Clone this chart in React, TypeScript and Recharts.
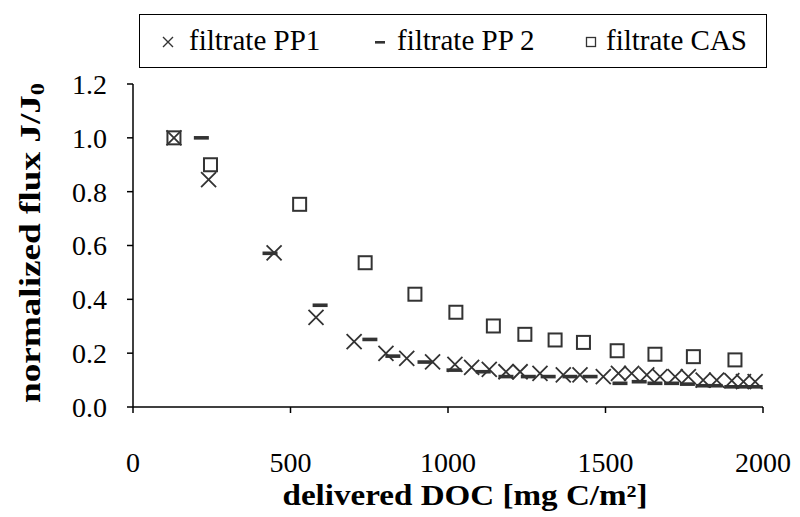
import React from 'react';
import { ScatterChart, Scatter, XAxis, YAxis, Legend, Label } from 'recharts';

// delivered DOC [mg C/m²] and normalized flux J/J0
const pp1X = [130, 240, 448, 581, 702, 803, 869, 951, 1022, 1075, 1131, 1184, 1229, 1292, 1366, 1419, 1493, 1541, 1583, 1631, 1673, 1721, 1763, 1810, 1853, 1901, 1938, 1975];
const pp1Y = [1.0, 0.845, 0.573, 0.333, 0.243, 0.199, 0.181, 0.168, 0.158, 0.147, 0.14, 0.131, 0.131, 0.125, 0.119, 0.119, 0.113, 0.125, 0.125, 0.119, 0.113, 0.113, 0.113, 0.1, 0.1, 0.098, 0.094, 0.094];

const pp2X = [217, 435, 594, 752, 825, 927, 1019, 1112, 1184, 1255, 1318, 1387, 1451, 1546, 1607, 1657, 1710, 1760, 1810, 1848, 1901, 1940, 1975];
const pp2Y = [1.0, 0.571, 0.378, 0.251, 0.189, 0.167, 0.137, 0.131, 0.113, 0.113, 0.113, 0.113, 0.113, 0.088, 0.094, 0.088, 0.088, 0.085, 0.079, 0.079, 0.075, 0.075, 0.075];

const casX = [130, 246, 529, 737, 895, 1025, 1144, 1244, 1340, 1430, 1537, 1657, 1779, 1911];
const casY = [1.0, 0.9, 0.753, 0.536, 0.419, 0.352, 0.301, 0.27, 0.249, 0.24, 0.209, 0.196, 0.187, 0.175];

const xTicks = [0, 500, 1000, 1500, 2000];
const yTicks = [0, 0.2, 0.4, 0.6, 0.8, 1.0, 1.2];

const seriesNames = ['filtrate PP1', 'filtrate PP 2', 'filtrate CAS'];

const toPoints = (xs: number[], ys: number[]) => xs.map((x, i) => ({ x, y: ys[i] }));

const INK = '#333';
const FONT = 'Liberation Serif';

const Cross = (p: any) => {
  const r = 7.5;
  const { cx, cy } = p;
  return (
    <path
      d={`M${cx - r},${cy - r}L${cx + r},${cy + r}M${cx - r},${cy + r}L${cx + r},${cy - r}`}
      stroke={INK}
      strokeWidth={1.8}
      fill="none"
    />
  );
};

const Dash = (p: any) => <rect x={p.cx - 7.5} y={p.cy - 1.8} width={15} height={3.6} fill={INK} />;

const Box = (p: any) => (
  <rect x={p.cx - 6.5} y={p.cy - 6.5} width={13} height={13} stroke={INK} strokeWidth={2} fill="none" />
);

const LegendMarks = [
  <svg width={14} height={14} key="a">
    <path d="M2,2L12,12M2,12L12,2" stroke={INK} strokeWidth={1.4} />
  </svg>,
  <svg width={14} height={14} key="b">
    <rect x={2} y={6} width={10} height={2.6} fill={INK} />
  </svg>,
  <svg width={14} height={14} key="c">
    <rect x={2.5} y={2.5} width={9} height={9} stroke={INK} strokeWidth={1.3} fill="none" />
  </svg>,
];

const legendSpots = [
  { markLeft: 21, textLeft: 49 },
  { markLeft: 233, textLeft: 257 },
  { markLeft: 444, textLeft: 466 },
];

const renderLegend = () => (
  <div
    style={{
      position: 'relative',
      width: 628,
      height: 54,
      boxSizing: 'border-box',
      border: '1.5px solid #000',
      fontFamily: FONT,
      fontSize: 29,
      color: '#000',
    }}
  >
    {seriesNames.map((name, i) => (
      <React.Fragment key={name}>
        <div style={{ position: 'absolute', left: legendSpots[i].markLeft, top: 20, lineHeight: 0 }}>
          {LegendMarks[i]}
        </div>
        <div style={{ position: 'absolute', left: legendSpots[i].textLeft, top: 9, lineHeight: '32px', whiteSpace: 'nowrap' }}>
          {name}
        </div>
      </React.Fragment>
    ))}
  </div>
);

export default function App() {
  return (
    <div style={{ position: 'absolute', left: 0, top: 0, width: 800, height: 517, background: '#fff', fontFamily: FONT }}>
      <ScatterChart width={800} height={517} margin={{ top: 84, right: 37, bottom: 0, left: 0 }}>
        <XAxis
          type="number"
          dataKey="x"
          domain={[0, 2000]}
          ticks={xTicks}
          height={110}
          tickSize={6}
          tickMargin={39}
          axisLine={{ stroke: '#000', strokeWidth: 1.5 }}
          tickLine={{ stroke: '#000', strokeWidth: 1.5 }}
          tick={{ fill: '#000', fontSize: 28, fontFamily: FONT }}
        >
          <Label
            content={() => (
              <text
                x={465}
                y={505}
                textAnchor="middle"
                fontFamily={FONT}
                fontWeight="bold"
                fontSize={29}
                textLength={365}
                lengthAdjust="spacingAndGlyphs"
                fill="#000"
              >
                delivered DOC [mg C/m²]
              </text>
            )}
          />
        </XAxis>
        <YAxis
          type="number"
          dataKey="y"
          domain={[0, 1.2]}
          ticks={yTicks}
          width={133}
          tickSize={6}
          tickMargin={20}
          tickFormatter={(v: number) => v.toFixed(1)}
          axisLine={{ stroke: '#000', strokeWidth: 1.5 }}
          tickLine={{ stroke: '#000', strokeWidth: 1.5 }}
          tick={{ fill: '#000', fontSize: 28, fontFamily: FONT }}
        >
          <Label
            content={() => (
              <text
                transform="translate(40,243) rotate(-90)"
                textAnchor="middle"
                fontFamily={FONT}
                fontWeight="bold"
                fontSize={29}
                textLength={320}
                lengthAdjust="spacingAndGlyphs"
                fill="#000"
              >
                normalized flux J/J<tspan fontSize={19} dy={4}>0</tspan>
              </text>
            )}
          />
        </YAxis>
        <Legend
          layout="horizontal"
          verticalAlign="middle"
          align="center"
          content={renderLegend}
          wrapperStyle={{ top: 14, left: 139, width: 628, height: 54 }}
        />
        <Scatter name={seriesNames[0]} data={toPoints(pp1X, pp1Y)} shape={Cross} isAnimationActive={false} />
        <Scatter name={seriesNames[1]} data={toPoints(pp2X, pp2Y)} shape={Dash} isAnimationActive={false} />
        <Scatter name={seriesNames[2]} data={toPoints(casX, casY)} shape={Box} isAnimationActive={false} />
      </ScatterChart>
    </div>
  );
}
